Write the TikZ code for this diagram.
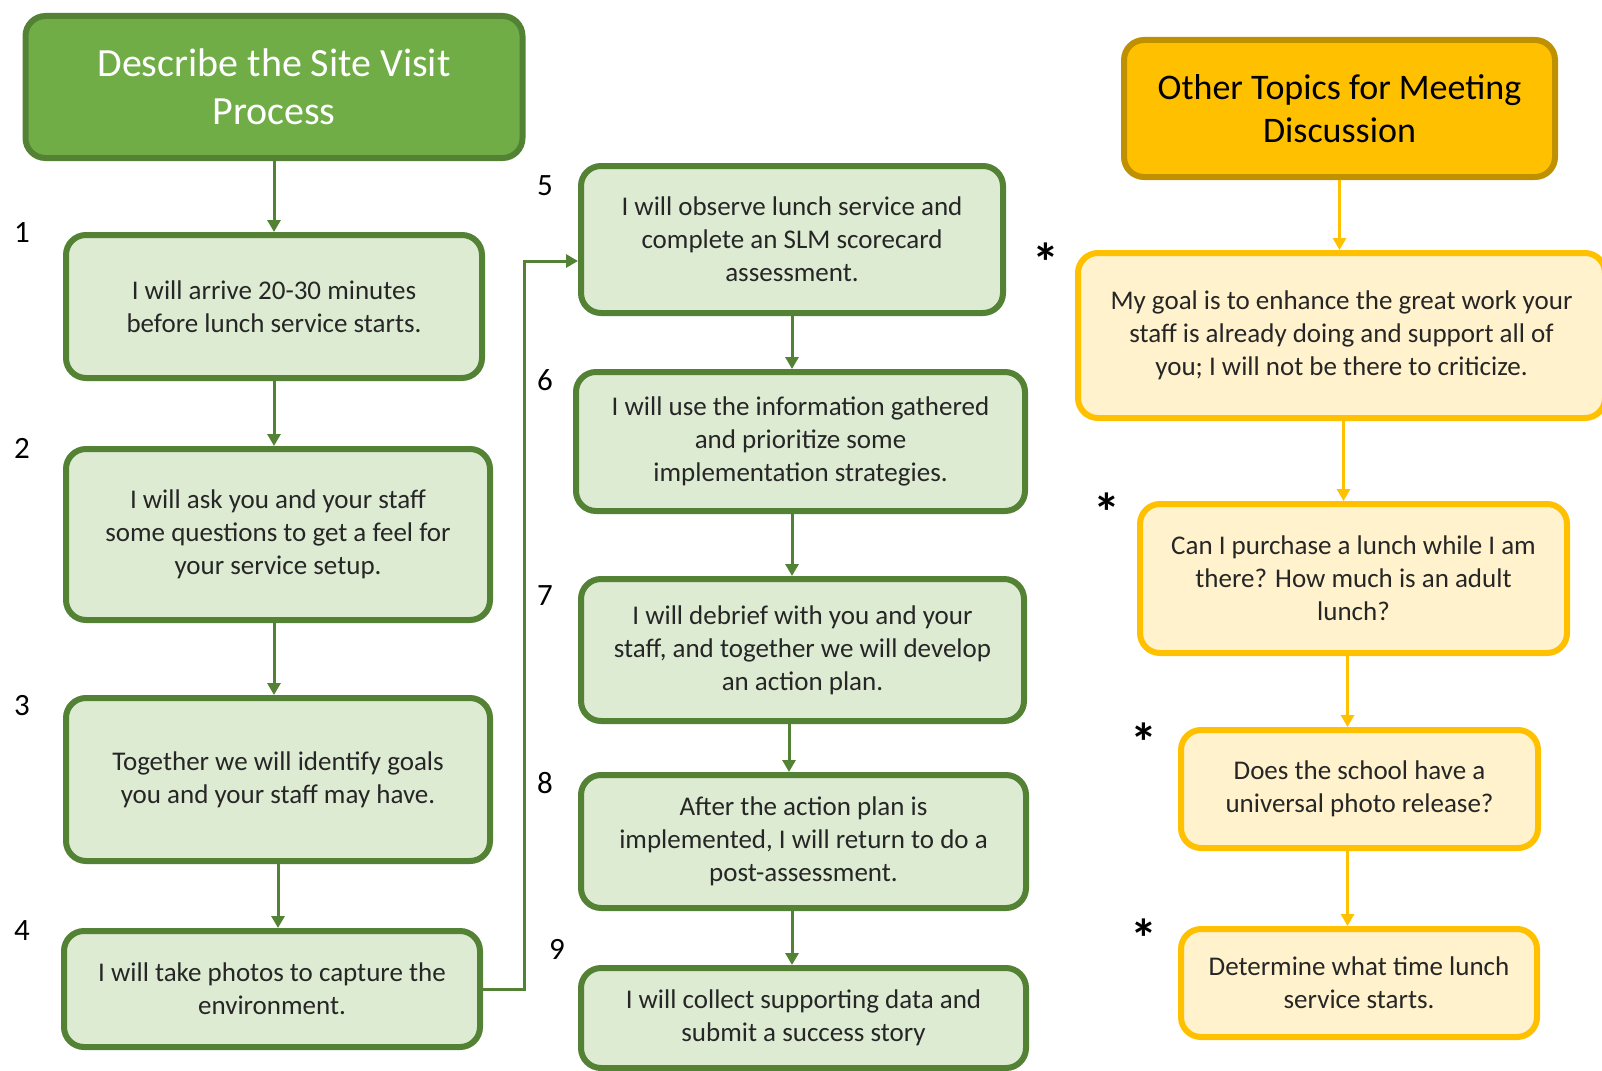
\documentclass[tikz,border=0pt]{standalone}
\usepackage{fontspec}
\setmainfont{Carlito}
\usepackage{tikz}
\usetikzlibrary{arrows.meta,calc,positioning}

\definecolor{leafgreen}{HTML}{70AD47}
\definecolor{darkgreen}{HTML}{548235}
\definecolor{palegreen}{HTML}{DEEBD3}
\definecolor{amber}{HTML}{FFC000}
\definecolor{darkamber}{HTML}{BF9000}
\definecolor{paleamber}{HTML}{FFF2CC}
\definecolor{inkgray}{HTML}{262626}

\begin{document}
\begin{tikzpicture}[x=1pt,y=-1pt,
    headbox/.style={draw=darkgreen,fill=leafgreen,line width=6pt,rounded corners=20pt,
      align=center,text=white,font=\fontsize{40}{48}\selectfont},
    stepbox/.style={draw=darkgreen,fill=palegreen,line width=6pt,rounded corners=20pt,
      align=center,text=inkgray,font=\fontsize{27}{33}\selectfont},
    topichead/.style={draw=darkamber,fill=amber,line width=6pt,rounded corners=20pt,
      align=center,text=black,font=\fontsize{36}{43}\selectfont},
    topicbox/.style={draw=amber,fill=paleamber,line width=6pt,rounded corners=20pt,
      align=center,text=inkgray,font=\fontsize{27}{33}\selectfont},
    flow/.style={draw=darkgreen,line width=3pt,-{Triangle[width=13pt,length=12pt]}},
    yflow/.style={draw=amber,line width=3pt,-{Triangle[width=13pt,length=12pt]}},
    num/.style={font=\fontsize{31}{31}\selectfont,text=black},
    star/.style={font=\bfseries\fontsize{54}{54}\selectfont,text=black}]
  \useasboundingbox (0,0) rectangle (1602,1070);

  % site visit column
  \node[headbox,minimum width=497pt,minimum height=142pt] (h1) at (274,87)
    {Describe the Site Visit\\Process};
  \node[stepbox,minimum width=416pt,minimum height=143pt] (b1) at (274,306.5)
    {I will arrive 20-30 minutes\\before lunch service starts.};
  \node[stepbox,minimum width=424pt,minimum height=171pt] (b2) at (278,534.5)
    {I will ask you and your staff\\some questions to get a feel for\\your service setup.};
  \node[stepbox,minimum width=424pt,minimum height=163pt] (b3) at (278,779.5)
    {Together we will identify goals\\you and your staff may have.};
  \node[stepbox,minimum width=416pt,minimum height=116pt] (b4) at (272,989)
    {I will take photos to capture the\\environment.};
  \node[stepbox,minimum width=422pt,minimum height=147pt] (b5) at (792,239.5)
    {I will observe lunch service and\\complete an SLM scorecard\\assessment.};
  \node[stepbox,minimum width=449pt,minimum height=139pt] (b6) at (800.5,441.5)
    {I will use the information gathered\\and prioritize some\\implementation strategies.};
  \node[stepbox,minimum width=443pt,minimum height=142pt] (b7) at (802.5,650)
    {I will debrief with you and your\\staff, and together we will develop\\an action plan.};
  \node[stepbox,minimum width=445pt,minimum height=133pt] (b8) at (803.5,841.5)
    {After the action plan is\\implemented, I will return to do a\\post-assessment.};
  \node[stepbox,minimum width=445pt,minimum height=100pt] (b9) at (803.5,1018)
    {I will collect supporting data and\\submit a success story};

  \node[num] (n1) at (22,233) {1};
  \node[num] (n2) at (22,448) {2};
  \node[num] (n3) at (22,706) {3};
  \node[num] (n4) at (22,931) {4};
  \node[num] (n5) at (545,186) {5};
  \node[num] (n6) at (545,380) {6};
  \node[num] (n7) at (545,596) {7};
  \node[num] (n8) at (545,783) {8};
  \node[num] (n9) at (557,949) {9};

  \draw[flow] (h1.south) -- (h1.south |- b1.north);
  \draw[flow] (b1.south) -- (b1.south |- b2.north);
  \draw[flow] (b2.south -| b1.south) -- (b1.south |- b3.north);
  \draw[flow] (b3.south) -- (b3.south |- b4.north);
  \coordinate (turn) at (524,261);
  \draw[flow,rounded corners=0pt] (b4.east) -| (turn) -- (turn -| b5.west);
  \draw[flow] (b5.south) -- (b5.south |- b6.north);
  \draw[flow] (b5.south |- b6.south) -- (b5.south |- b7.north);
  \draw[flow] ([xshift=-3pt]b5.south |- b7.south) -- ([xshift=-3pt]b5.south |- b8.north);
  \draw[flow] (b5.south |- b8.south) -- (b5.south |- b9.north);

  % meeting topics column
  \node[topichead,minimum width=431pt,minimum height=137pt] (h2) at (1339.5,108.5)
    {Other Topics for Meeting\\Discussion};
  \node[topicbox,minimum width=527pt,minimum height=165pt] (y1) at (1341.5,335.5)
    {My goal is to enhance the great work your\\staff is already doing and support all of\\you; I will not be there to criticize.};
  \node[topicbox,minimum width=427pt,minimum height=149pt] (y2) at (1353.5,578.5)
    {Can I purchase a lunch while I am\\there? How much is an adult\\lunch?};
  \node[topicbox,minimum width=357pt,minimum height=118pt] (y3) at (1359.5,789)
    {Does the school have a\\universal photo release?};
  \node[topicbox,minimum width=356pt,minimum height=108pt] (y4) at (1359,983)
    {Determine what time lunch\\service starts.};

  \node[star] (s1) at (1046,262) {*};
  \node[star] (s2) at (1107,512) {*};
  \node[star] (s3) at (1144,742) {*};
  \node[star] (s4) at (1144,938) {*};

  \draw[yflow] (h2.south) -- (h2.south |- y1.north);
  \draw[yflow] ([xshift=2pt]y1.south) -- ([xshift=2pt]y1.south |- y2.north);
  \draw[yflow] ([xshift=-6pt]y2.south) -- ([xshift=-6pt]y2.south |- y3.north);
  \draw[yflow] ([xshift=-12pt]y3.south) -- ([xshift=-12pt]y3.south |- y4.north);
\end{tikzpicture}
\end{document}
